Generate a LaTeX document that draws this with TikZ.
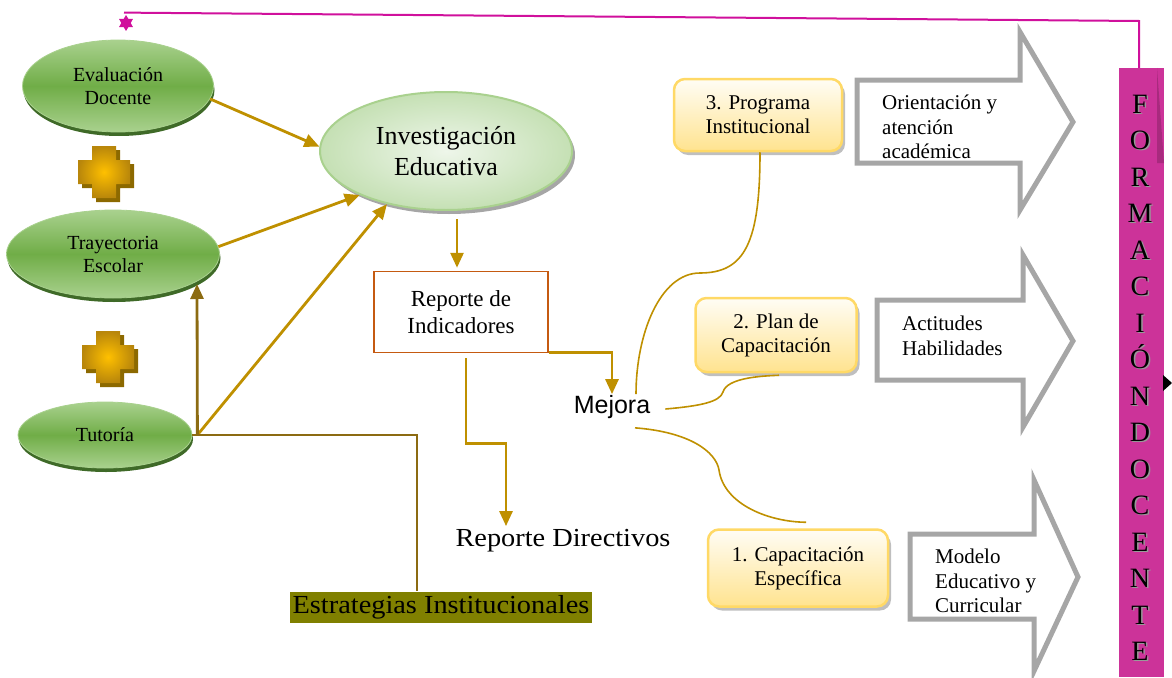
\documentclass[tikz,border=0pt]{standalone}
\usepackage{fontspec}
\setmainfont{Liberation Serif}
\newfontfamily\arialf{Liberation Sans}
\newfontfamily\widef[FakeStretch=1.09]{Liberation Serif}
\usetikzlibrary{shapes.geometric,arrows.meta,shadows,calc}

\definecolor{gold}{HTML}{BF9000}
\definecolor{brownl}{HTML}{8C6B12}
\definecolor{gdark}{HTML}{70AD47}
\definecolor{glight}{HTML}{A9D18E}
\definecolor{gshadow}{HTML}{3F6A28}
\definecolor{magentab}{HTML}{CC3399}
\definecolor{magentad}{HTML}{A82A7E}
\definecolor{pinkline}{HTML}{D0109C}
\definecolor{arrgray}{HTML}{A6A6A6}
\definecolor{ybord}{HTML}{FFD966}
\definecolor{ytop}{HTML}{FFFDF5}
\definecolor{ybot}{HTML}{FFE38F}
\definecolor{olivebg}{HTML}{808000}
\definecolor{rbord}{HTML}{C55A11}
\definecolor{goldc}{HTML}{FFC000}
\definecolor{goldd}{HTML}{B8860B}
\definecolor{golds}{HTML}{8C6900}
\definecolor{invin}{HTML}{EEF6EA}
\definecolor{invout}{HTML}{C5E0B4}

\tikzset{
  greenell/.style={ellipse, inner sep=0pt, draw=glight, line width=0.8pt,
    top color=glight, bottom color=glight, middle color=gdark,
    drop shadow={shadow xshift=1pt, shadow yshift=-4pt, fill=gshadow, opacity=1},
    align=center, font=\fontsize{20}{23}\selectfont},
  garrow/.style={draw=gold, line width=2.8pt, -{Triangle[length=15pt,width=13pt]}},
  brownarrow/.style={draw=brownl, line width=2.8pt, -{Triangle[length=15pt,width=13pt]}},
  brownline/.style={draw=brownl, line width=2.8pt},
  ybox/.style={rectangle, rounded corners=11pt, draw=ybord, line width=2.5pt,
    top color=ytop, bottom color=ybot,
    drop shadow={shadow xshift=3pt, shadow yshift=-4pt, fill=black!25, opacity=1},
    align=center, font=\fontsize{21}{24}\selectfont},
  grayarrow/.style={draw=arrgray, line width=5pt, fill=white, line join=miter},
  curveline/.style={draw=gold, line width=1.6pt},
  arrtext/.style={anchor=west, inner sep=0pt, align=left, font=\fontsize{21}{24.5}\selectfont},
  fdletter/.style={anchor=base, inner sep=0pt, font=\fontsize{28}{28}\selectfont},
}

\begin{document}
\begin{tikzpicture}[x=1pt,y=-1pt]
\useasboundingbox (0,0) rectangle (1172,677);

% plus signs
\foreach \cx/\cy in {104/172, 108/357}{
  \begin{scope}[shift={(\cx,\cy)}]
    \fill[golds] (-8,-22) -- (16,-22) -- (16,-8) -- (30,-8) -- (30,16) -- (16,16) -- (16,30) -- (-8,30) -- (-8,16) -- (-22,16) -- (-22,-8) -- (-8,-8) -- cycle;
    \shade[inner color=goldc, outer color=goldd] (-12,-26) -- (12,-26) -- (12,-12) -- (26,-12) -- (26,12) -- (12,12) -- (12,26) -- (-12,26) -- (-12,12) -- (-26,12) -- (-26,-12) -- (-12,-12) -- cycle;
  \end{scope}
}

% green ellipses
\node[greenell, minimum width=191pt, minimum height=92pt] (ev) at (118,86) {Evaluación\\Docente};
\node[greenell, minimum width=213pt, minimum height=88pt] (tr) at (113,254) {Trayectoria\\Escolar};
\node[greenell, minimum width=174pt, minimum height=66pt] (tu) at (105,435) {Tutoría};

% Investigacion
\node[ellipse, minimum width=252pt, minimum height=118pt, draw=glight, line width=2pt,
  inner color=invin, outer color=invout,
  drop shadow={shadow xshift=3pt, shadow yshift=-4pt, fill=black!35, opacity=1},
  align=center, font=\fontsize{26}{31}\selectfont] (inv) at (446,151) {Investigación\\Educativa};

% Reporte de indicadores
\node[draw=rbord, line width=1.5pt, fill=white, minimum width=174pt, minimum height=81pt,
  align=center, font=\fontsize{23}{27}\selectfont] (rep) at (461,312) {Reporte de\\Indicadores};

\node[font=\arialf\fontsize{25}{28}\selectfont, inner sep=1pt] (mej) at (612,407) {Mejora};
\node[font=\widef\fontsize{26}{30}\selectfont] (rdir) at (563,541) {Reporte Directivos};
\node[fill=olivebg, inner sep=0pt, minimum width=302pt, minimum height=31pt,
  font=\widef\fontsize{26}{30}\selectfont] (est) at (441,607) {Estrategias Institucionales};

% yellow boxes
\node[ybox, minimum width=168pt, minimum height=72pt] (b3) at (758,115) {3. Programa\\Institucional};
\node[ybox, minimum width=161pt, minimum height=74pt] (b2) at (776,335) {2. Plan de\\Capacitación};
\node[ybox, minimum width=180pt, minimum height=77pt] (b1) at (798,568) {1. Capacitación\\Específica};

% gray arrows
\draw[grayarrow] (857,80) -- (1020,80) -- (1020,32) -- (1073,122) -- (1020,210) -- (1020,163) -- (857,163) -- cycle;
\draw[grayarrow] (877,300) -- (1023,300) -- (1023,255) -- (1073,341) -- (1023,427) -- (1023,380) -- (877,380) -- cycle;
\draw[grayarrow] (910,534) -- (1034,534) -- (1034,480) -- (1078,577) -- (1034,671) -- (1034,619) -- (910,619) -- cycle;
\node[arrtext] (t3) at (882,127) {Orientación y\\atención\\académica};
\node[arrtext] (t2) at (902,336) {Actitudes\\Habilidades};
\node[arrtext] (t1) at (935,581) {Modelo\\Educativo y\\Curricular};

% Formacion docente
\node[fill=magentab, inner sep=0pt, minimum width=45pt, minimum height=609pt] (fd) at (1141.5,372.5) {};
\fill[magentad] (1157,68) -- (1164,163) -- (1157,163) -- cycle;
\foreach \l [count=\i from 0] in {F,O,R,M,A,C,I,Ó,N,D,O,C,E,N,T,E}{
  \node[fdletter, text=black!40] at (1141.5,{114.5+36.47*\i}) {\l};
  \node[fdletter, text=black] (fl\i) at (1140,{113.5+36.47*\i}) {\l};
}
\fill[black] (1163,375) -- (1172,383) -- (1163,391) -- cycle;

% pink connector with star
\node[star, star points=6, star point ratio=1.7, fill=pinkline, inner sep=0pt, minimum size=16pt] (st) at (126,23) {};
\coordinate (ps) at ($(st.north)+(-2,-2)$);
\coordinate (pc) at (1139,21);
\draw[pinkline, line width=2pt] (ps) -- (pc) -- (pc |- fd.north);

% connectors
\coordinate (j) at ($(tu.east)+(5,0)$);
\coordinate (k) at (417,435);
\coordinate (rd) at (506,0);
\draw[garrow] (ev.-8) -- (inv.178);
\draw[garrow] (tr.4) -- (inv.207);
\draw[garrow] (j) -- (inv.222);
\draw[brownline] (tu.east) -- (j) -- (k) -- (k |- est.north);
\draw[brownarrow] (j) -- ($(tr.center)+(84,30)$);
\draw[garrow] ($(inv.south)+(11,8)$) -- ($(rep.north)+(-4,-3)$);
\draw[garrow] ($(rep.south east)+(0,-1)$) -| (mej.north);
\draw[garrow] ($(rep.south)+(5,5)$) -- ++(0,85) -- ++(40,0) -- (rd |- rdir.north);

% curves from Mejora
\draw[curveline] ($(mej.north)+(24,0)$) .. controls +(0,-60) and (660,273) .. (700,273)
  .. controls (745,273) and ($(b3.south)+(2,90)$) .. ($(b3.south)+(2,0)$);
\draw[curveline] ($(mej.east)+(14,2)$) .. controls (700,406) and (720,402) .. (723,392)
  .. controls (727,378) and (760,376) .. ($(b2.south)+(3,2)$);
\draw[curveline] ($(mej.south)+(23,8)$) .. controls (690,432) and (716,452) .. (719,470)
  .. controls (724,505) and (770,522) .. ($(b1.north)+(8,-6)$);
\end{tikzpicture}
\end{document}
